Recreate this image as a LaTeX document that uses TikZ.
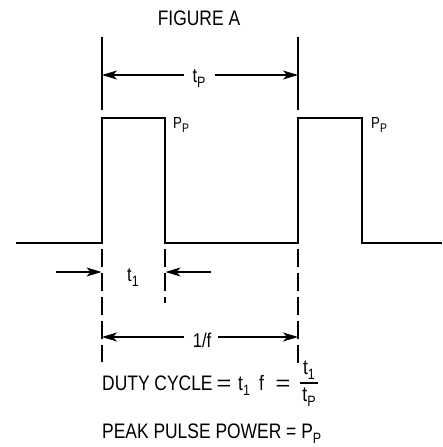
\documentclass[tikz,border=0pt]{standalone}
\usepackage{fontspec}
\setmainfont{Liberation Sans}[FakeStretch=0.83]
\usetikzlibrary{arrows.meta}
\newcommand\lsub[2]{\raisebox{-0.25em}{\fontsize{#1}{#1}\selectfont #2}}
\begin{document}
\begin{tikzpicture}[x=1pt,y=1pt,
  wave/.style={line width=2.2pt,line join=miter},
  ext/.style={line width=1.1pt},
  dsh/.style={line width=1.1pt,dash pattern=on 18pt off 6pt},
  dim/.style={line width=1.1pt,-{Stealth[length=15pt,width=9pt,inset=4pt]}},
  lab/.style={inner sep=0pt,font=\fontsize{21}{21}\selectfont},
  smalllab/.style={inner sep=0pt,font=\fontsize{16}{16}\selectfont}]
\useasboundingbox (0,0) rectangle (442,-447);
% title
\node[lab] (fig) at (199,-18) {FIGURE A};
% waveform
\coordinate (a0) at (16,-243);
\coordinate (r1b) at (102,-243);
\coordinate (r1t) at (102,-118);
\coordinate (f1t) at (165,-118);
\coordinate (f1b) at (165,-243);
\coordinate (r2b) at (298,-243);
\coordinate (r2t) at (298,-118);
\coordinate (f2t) at (362,-118);
\coordinate (f2b) at (362,-243);
\coordinate (a1) at (442,-243);
\draw[wave] (a0) -- (r1b) -- (r1t) -- (f1t) -- (f1b) -- (r2b) -- (r2t) -- (f2t) -- (f2b) -- (a1);
% top extension lines
\coordinate (e1t) at (102,-37);
\coordinate (e1b) at (102,-110);
\coordinate (e2t) at (298,-37);
\coordinate (e2b) at (298,-110);
\draw[ext] (e1t) -- (e1b);
\draw[ext] (e2t) -- (e2b);
% tP dimension
\node[lab,font=\fontsize{20}{20}\selectfont] (tp) at (199,-79) {t\lsub{15}{P}};
\coordinate (tpL) at (102,-75);
\coordinate (tpR) at (298,-75);
\coordinate (tpa) at (184,-75);
\coordinate (tpb) at (215,-75);
\draw[dim] (tpa) -- (tpL);
\draw[dim] (tpb) -- (tpR);
% PP labels
\node[smalllab,anchor=base west] (pp1) at (173,-128) {P\lsub{12.5}{P}};
\node[smalllab,anchor=base west] (pp2) at (371,-128) {P\lsub{12.5}{P}};
% dashed lines
\coordinate (d1t) at (102,-249);
\coordinate (d1b) at (102,-362);
\coordinate (d2t) at (165,-249);
\coordinate (d2b) at (165,-303);
\coordinate (d3t) at (298,-249);
\coordinate (d3b) at (298,-368);
\draw[dsh] (d1t) -- (d1b);
\draw[dsh] (d2t) -- (d2b);
\draw[dsh] (d3t) -- (d3b);
% t1 dimension
\node[lab,font=\fontsize{20}{20}\selectfont,anchor=base west] (tone) at (127,-281) {t\lsub{15}{1}};
\coordinate (t1a) at (56,-272);
\coordinate (t1L) at (101.5,-272);
\coordinate (t1b) at (211,-272);
\coordinate (t1R) at (165.5,-272);
\draw[dim] (t1a) -- (t1L);
\draw[dim] (t1b) -- (t1R);
% 1/f dimension
\node[lab,font=\fontsize{20}{20}\selectfont] (freq) at (202,-340) {1/f};
\coordinate (fL) at (102,-337);
\coordinate (fR) at (298,-337);
\coordinate (fa) at (184,-337);
\coordinate (fb) at (218,-337);
\draw[dim] (fa) -- (fL);
\draw[dim] (fb) -- (fR);
% duty cycle
\node[lab,anchor=base west] (dc) at (102,-390) {DUTY CYCLE};
\node[lab,anchor=base] (eq1) at (224,-390) {\scalebox{1.45}[1]{=}};
\node[lab,anchor=base west] (dt1) at (238,-390) {t\lsub{15}{1}};
\node[lab,anchor=base west] (df) at (259,-390) {f};
\node[lab,anchor=base] (eq2) at (283,-390) {\scalebox{1.45}[1]{=}};
\node[lab] (num) at (309,-370) {t\lsub{15}{1}};
\coordinate (barL) at (300,-383);
\coordinate (barR) at (318,-383);
\draw[ext] (barL) -- (barR);
\node[lab] (den) at (309,-397) {t\lsub{15}{P}};
% peak pulse power
\node[lab,anchor=base west] (ppp) at (102,-438) {PEAK PULSE POWER = P\lsub{15}{P}};
\end{tikzpicture}
\end{document}
